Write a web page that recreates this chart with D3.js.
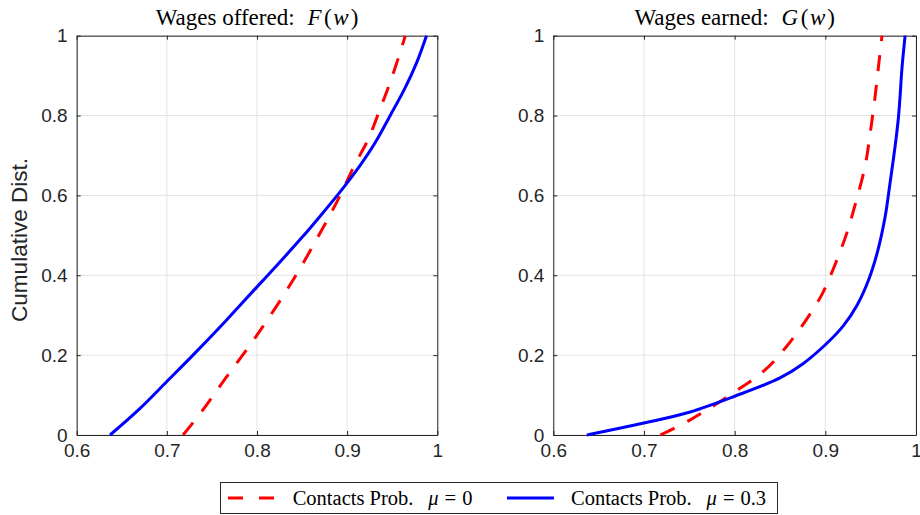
<!DOCTYPE html>
<html>
<head>
<meta charset="utf-8">
<script src="https://cdn.jsdelivr.net/npm/d3@7"></script>
<style>
  html, body { margin: 0; padding: 0; background: #fff; }
  svg { display: block; }
</style>
</head>
<body>
<svg id="chart" width="920" height="515"></svg>
<script>
// Wage grid (w) and cumulative distributions for the two contact probabilities
const xTicks = [0.6, 0.7, 0.8, 0.9, 1];
const yTicks = [0, 0.2, 0.4, 0.6, 0.8, 1];

// Offered wages F(w)
const offeredWMu0 = [0.718, 0.740, 0.765, 0.800, 0.840, 0.8754, 0.890, 0.9087, 0.9235, 0.9364, 0.9475, 0.9586, 0.9645];
const offeredFMu0 = [0, 0.063, 0.142, 0.250, 0.388, 0.528, 0.590, 0.678, 0.741, 0.816, 0.882, 0.957, 1];
const offeredWMu3 = [0.637, 0.670, 0.700, 0.729, 0.765, 0.800, 0.812, 0.850, 0.870, 0.8957, 0.914, 0.931, 0.9475, 0.964, 0.977, 0.988];
const offeredFMu3 = [0, 0.066, 0.134, 0.200, 0.285, 0.371, 0.400, 0.495, 0.548, 0.619, 0.674, 0.732, 0.799, 0.868, 0.932, 1];

// Earned wages G(w)
const earnedWMu0 = [0.718, 0.751, 0.800, 0.8335, 0.857, 0.8776, 0.896, 0.909, 0.9236, 0.9328, 0.9437, 0.950, 0.955, 0.9585, 0.9625];
const earnedGMu0 = [0, 0.038, 0.108, 0.163, 0.221, 0.284, 0.351, 0.417, 0.505, 0.576, 0.672, 0.764, 0.850, 0.920, 1];
const earnedWMu3 = [0.637, 0.700, 0.750, 0.800, 0.850, 0.875, 0.900, 0.920, 0.935, 0.948, 0.958, 0.966, 0.971, 0.975, 0.978, 0.9805, 0.9825, 0.9845, 0.988];
const earnedGMu3 = [0, 0.030, 0.057, 0.097, 0.143, 0.178, 0.226, 0.274, 0.325, 0.390, 0.463, 0.547, 0.625, 0.690, 0.742, 0.792, 0.850, 0.918, 1];

const legendLabels = ["Contacts Prob.", "Contacts Prob."];
const legendSymbol = "μ";
const legendValues = ["0", "0.3"];

const svg = d3.select("#chart");
const axisColor = "#262626";
const serif = "'Liberation Serif', 'DejaVu Serif', serif";
const sans = "'Liberation Sans', Arial, sans-serif";
const dashPattern = "16,14";

const yTop = 35.7, yBottom = 435;
const panels = [
  { x0: 76.7, x1: 437.3, title: "Wages offered:", fn: "F", series: [[offeredWMu0, offeredFMu0], [offeredWMu3, offeredFMu3]], ylabel: true },
  { x0: 553.3, x1: 916, title: "Wages earned:", fn: "G", series: [[earnedWMu0, earnedGMu0], [earnedWMu3, earnedGMu3]], ylabel: false }
];
const styles = [
  { color: "#ff0000", dash: dashPattern },
  { color: "#0000ff", dash: null }
];

panels.forEach(p => {
  const x = d3.scaleLinear().domain([0.6, 1]).range([p.x0, p.x1]);
  const y = d3.scaleLinear().domain([0, 1]).range([yBottom, yTop]);
  const g = svg.append("g");

  // grid
  g.append("g").selectAll("line").data(xTicks).join("line")
    .attr("x1", d => x(d)).attr("x2", d => x(d)).attr("y1", yTop).attr("y2", yBottom)
    .attr("stroke", "#e3e3e3").attr("stroke-width", 1);
  g.append("g").selectAll("line").data(yTicks).join("line")
    .attr("x1", p.x0).attr("x2", p.x1).attr("y1", d => y(d)).attr("y2", d => y(d))
    .attr("stroke", "#e3e3e3").attr("stroke-width", 1);

  // axes with inward ticks on all four sides
  const tick = 4;
  const bx = d3.axisBottom(x).tickValues(xTicks).tickSizeInner(-tick).tickSizeOuter(0).tickPadding(9).tickFormat(d3.format("~g"));
  const tx = d3.axisTop(x).tickValues(xTicks).tickSizeInner(-tick).tickSizeOuter(0).tickFormat("");
  const ly = d3.axisLeft(y).tickValues(yTicks).tickSizeInner(-tick).tickSizeOuter(0).tickPadding(9).tickFormat(d3.format("~g"));
  const ry = d3.axisRight(y).tickValues(yTicks).tickSizeInner(-tick).tickSizeOuter(0).tickFormat("");

  [[bx, `translate(0,${yBottom})`], [tx, `translate(0,${yTop})`], [ly, `translate(${p.x0},0)`], [ry, `translate(${p.x1},0)`]]
    .forEach(([ax, tr]) => {
      const a = g.append("g").attr("transform", tr).call(ax);
      a.selectAll("path, line").attr("stroke", axisColor).attr("stroke-width", 1);
      a.selectAll("text").attr("fill", axisColor).style("font-family", sans).style("font-size", "19px");
    });

  // curves
  const line = d3.line().x(d => x(d[0])).y(d => y(d[1])).curve(d3.curveCatmullRom.alpha(0.5));
  p.series.forEach((s, i) => {
    const pts = s[0].map((w, k) => [w, s[1][k]]);
    g.append("path").datum(pts).attr("d", line)
      .attr("fill", "none").attr("stroke", styles[i].color).attr("stroke-width", 3)
      .attr("stroke-dasharray", styles[i].dash);
  });

  // title: text part, then the function name in math style
  const t = g.append("text").attr("x", (p.x0 + p.x1) / 2).attr("y", 25)
    .attr("text-anchor", "middle").attr("fill", "#000")
    .style("font-family", serif).style("font-size", "23px");
  t.append("tspan").text(p.title);
  t.append("tspan").attr("dx", 13).style("font-style", "italic").text(p.fn);
  t.append("tspan").attr("dx", 2.5).text("(");
  t.append("tspan").attr("dx", 1.5).style("font-style", "italic").text("w");
  t.append("tspan").attr("dx", 2).text(")");

  if (p.ylabel) {
    g.append("text").attr("transform", `translate(27,240) rotate(-90)`)
      .attr("text-anchor", "middle").attr("fill", axisColor)
      .style("font-family", sans).style("font-size", "22.5px").text("Cumulative Dist.");
  }
});

// legend
const leg = svg.append("g");
leg.append("rect").attr("x", 220.5).attr("y", 482.5).attr("width", 557).attr("height", 31)
  .attr("fill", "#fff").attr("stroke", axisColor).attr("stroke-width", 1);
const legItems = [
  { x: 228, tx: 292.7 },
  { x: 507, tx: 571 }
];
legItems.forEach((it, i) => {
  leg.append("line").attr("x1", it.x).attr("x2", it.x + 47).attr("y1", 498).attr("y2", 498)
    .attr("stroke", styles[i].color).attr("stroke-width", 3)
    .attr("stroke-dasharray", i === 0 ? "15,16" : null);
  const t = leg.append("text").attr("x", it.tx).attr("y", 505).attr("fill", "#000")
    .style("font-family", serif).style("font-size", "20.5px");
  t.append("tspan").text(legendLabels[i]);
  t.append("tspan").attr("x", it.tx + 135.6).style("font-style", "italic").text(legendSymbol);
  t.append("tspan").attr("dx", 6).text("=");
  t.append("tspan").attr("dx", 6).text(legendValues[i]);
});
</script>
</body>
</html>
